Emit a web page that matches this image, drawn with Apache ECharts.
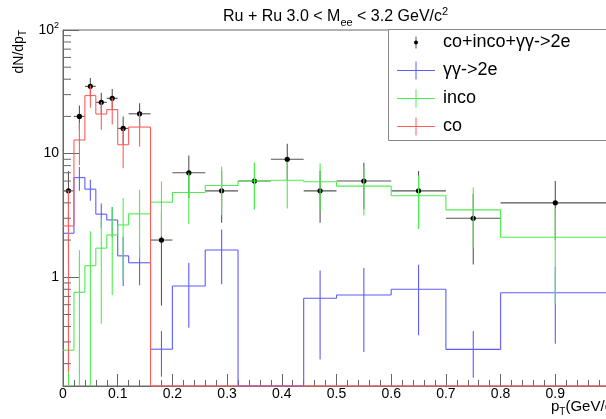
<!DOCTYPE html>
<html><head><meta charset="utf-8">
<script src="https://cdn.jsdelivr.net/npm/echarts@6/dist/echarts.min.js"></script>
<style>html,body{margin:0;padding:0;background:#fff}#c{width:606px;height:419px}</style>
</head><body><div id="c"></div>
<script>
// ---- data ----
const binLo = [0, 0.02, 0.04, 0.06, 0.08, 0.10, 0.12, 0.16, 0.20, 0.26, 0.32, 0.38, 0.44, 0.50, 0.60, 0.70, 0.80];
const binHi = [0.02, 0.04, 0.06, 0.08, 0.10, 0.12, 0.16, 0.20, 0.26, 0.32, 0.38, 0.44, 0.50, 0.60, 0.70, 0.80, 1.00];
const totVals = [5, 20, 35, 26, 28, 16, 21, 2, 7, 5, 6, 9, 5, 6, 5, 3, 4];
const totErr  = [2.24, 4.47, 5.92, 5.1, 5.29, 4.0, 4.58, 1.41, 2.65, 2.24, 2.45, 3.0, 2.24, 2.45, 2.24, 1.73, 2.0];
const ggVals  = [2.27, 6.4, 5.16, 3.24, 2.91, 1.49, 1.31, 0.262, 0.85, 1.66, 0, 0, 0.676, 0.719, 0.80, 0.261, 0.75];
const ggErr   = [1.0, 1.4, 1.0, 0.72, 0.8, 0.64, 0.45, 0.105, 0.46, 0.78, 0, 0, 0.46, 0.47, 0.46, 0.107, 0.46];
const incoVals = [0.257, 0.756, 1.24, 1.72, 2.2, 2.65, 3.26, 4.05, 4.85, 5.52, 6.0, 6.1, 5.92, 5.46, 4.56, 3.51, 2.11];
const incoErr  = [0.3, 0.9, 1.12, 1.3, 1.48, 1.7, 1.84, 1.9, 2.15, 2.35, 2.45, 2.5, 2.45, 2.3, 2.1, 1.8, 1.5];
const coVals = [2.6, 12.9, 29.5, 20.9, 22.7, 11.8, 16.4, 0, 0, 0, 0, 0, 0, 0, 0, 0, 0];
const coErr  = [2.43, 4.8, 6.0, 5.3, 5.5, 4.2, 5.0, 0, 0, 0, 0, 0, 0, 0, 0, 0, 0];
const seriesNames = ['co+inco+γγ->2e', 'γγ->2e', 'inco', 'co'];
const xTickLabels = ['0', '0.1', '0.2', '0.3', '0.4', '0.5', '0.6', '0.7', '0.8', '0.9'];
const yTickValues = [1, 10, 100];
const yTickLabels = ['1', '10', '{b|10}{s|2}'];
const yMinorTicks = [0.2,0.3,0.4,0.5,0.6,0.7,0.8,0.9, 2,3,4,5,6,7,8,9, 20,30,40,50,60,70,80,90];
const yMin = 0.132, yMax = 100;

// ---- styling ----
const FONT = 'Liberation Sans, Arial, Helvetica, sans-serif';
const AXC = '#666';
const COL = {tot: '#3a3a3a', gg: '#5c5cff', inco: '#4cee4c', co: '#ff5c5c'};

const clampY = v => Math.min(yMax, Math.max(yMin, v));
function rows(vals, errs) { return binLo.map((lo, i) => [lo, binHi[i], vals[i], errs[i]]); }

function histRender(vals, color) {
  return function (params, api) {
    const i = params.dataIndex;
    const lo = api.value(0), hi = api.value(1), v = api.value(2), e = api.value(3);
    const vc = clampY(v);
    const p1 = api.coord([lo, vc]), p2 = api.coord([hi, vc]);
    const st = {stroke: color, lineWidth: 1.1};
    const ch = [{type: 'line', shape: {x1: p1[0], y1: p1[1], x2: p2[0], y2: p2[1]}, style: st}];
    if (i > 0) {
      const q = api.coord([lo, clampY(vals[i - 1])]);
      ch.push({type: 'line', shape: {x1: q[0], y1: q[1], x2: p1[0], y2: p1[1]}, style: st});
    }
    if (v > 0 && e > 0) {
      const xc = (lo + hi) / 2;
      const a = api.coord([xc, clampY(v + e)]), b = api.coord([xc, clampY(v - e)]);
      ch.push({type: 'line', shape: {x1: a[0], y1: a[1], x2: b[0], y2: b[1]}, style: st});
    }
    return {type: 'group', children: ch};
  };
}
function pointRender(params, api) {
  const lo = api.value(0), hi = api.value(1), v = api.value(2), e = api.value(3);
  const xc = (lo + hi) / 2;
  const a = api.coord([lo, v]), b = api.coord([hi, v]);
  const t = api.coord([xc, clampY(v + e)]), d = api.coord([xc, clampY(v - e)]);
  const c = api.coord([xc, v]);
  const st = {stroke: '#555', lineWidth: 1.1};
  return {type: 'group', children: [
    {type: 'line', shape: {x1: a[0], y1: a[1], x2: b[0], y2: b[1]}, style: st},
    {type: 'line', shape: {x1: t[0], y1: t[1], x2: d[0], y2: d[1]}, style: st},
    {type: 'circle', shape: {cx: c[0], cy: c[1], r: 2.6}, style: {fill: '#000'}}
  ]};
}
function minorTickRender(params, api) {
  const p = api.coord([0, api.value(1)]);
  return {type: 'line', shape: {x1: p[0], y1: p[1], x2: p[0] + 8, y2: p[1]}, style: {stroke: AXC, lineWidth: 1}};
}

// legend drawn as graphic elements
const legendColors = ['#000', COL.gg, COL.inco, COL.co];
const legendGraphic = [{type: 'rect', shape: {x: 388.5, y: 29.5, width: 240, height: 111}, style: {fill: '#fff', stroke: '#888', lineWidth: 1}, z: 10}];
seriesNames.forEach((nm, i) => {
  const cy = 42.5 + 28 * i;
  if (i === 0) {
    legendGraphic.push({type: 'line', shape: {x1: 416, y1: cy - 6, x2: 416, y2: cy + 6}, style: {stroke: '#555', lineWidth: 1}, z: 11});
    legendGraphic.push({type: 'circle', shape: {cx: 416, cy: cy, r: 2}, style: {fill: '#000'}, z: 11});
  } else {
    legendGraphic.push({type: 'line', shape: {x1: 397, y1: cy, x2: 435, y2: cy}, style: {stroke: legendColors[i], lineWidth: 1}, z: 11});
    legendGraphic.push({type: 'line', shape: {x1: 416, y1: cy - 9, x2: 416, y2: cy + 9}, style: {stroke: legendColors[i], lineWidth: 1}, z: 11});
  }
  legendGraphic.push({type: 'text', x: 443, y: cy, style: {text: nm, font: '18px ' + FONT, fill: '#000', verticalAlign: 'middle', align: 'left'}, z: 11});
});

const chart = echarts.init(document.getElementById('c'), null, {renderer: 'canvas'});
chart.setOption({
  animation: false,
  backgroundColor: '#fff',
  title: {
    text: '{a|Ru + Ru 3.0 < M}{b|ee}{a| < 3.2 GeV/c}{c|2}',
    left: 218, top: 1,
    textStyle: {fontWeight: 'normal', rich: {
      a: {fontSize: 16, fontFamily: FONT, fontWeight: 'normal', color: '#000', lineHeight: 22},
      b: {fontSize: 11, fontFamily: FONT, fontWeight: 'normal', color: '#000', verticalAlign: 'bottom', lineHeight: 11},
      c: {fontSize: 11, fontFamily: FONT, fontWeight: 'normal', color: '#000', verticalAlign: 'top', lineHeight: 11}
    }}
  },
  grid: {left: 63, top: 30, width: 547, height: 356, show: true, borderColor: AXC, borderWidth: 1, containLabel: false, outerBoundsMode: 'none'},
  xAxis: {
    type: 'value', min: 0, max: 1, interval: 0.1,
    axisLine: {show: true, lineStyle: {color: AXC}},
    axisTick: {show: true, inside: true, length: 12, lineStyle: {color: AXC}},
    minorTick: {show: true, splitNumber: 5, length: 6, lineStyle: {color: AXC}},
    splitLine: {show: false}, minorSplitLine: {show: false},
    axisLabel: {margin: 1, color: '#000', fontSize: 14, fontFamily: FONT, showMaxLabel: true,
      formatter: v => { const k = Math.round(v * 10); return (Math.abs(v * 10 - k) < 1e-6 && k < xTickLabels.length) ? xTickLabels[k] : ''; }}
  },
  yAxis: {
    type: 'log', logBase: 10, min: yMin, max: yMax,
    axisLine: {show: true, lineStyle: {color: AXC}},
    axisTick: {show: true, inside: true, length: 16, lineStyle: {color: AXC}},
    minorTick: {show: false}, splitLine: {show: false},
    axisLabel: {margin: 4, color: '#000', fontSize: 14, fontFamily: FONT, showMinLabel: true, showMaxLabel: true,
      formatter: v => { for (let k = 0; k < yTickValues.length; k++) { if (Math.abs(v - yTickValues[k]) / yTickValues[k] < 1e-4) return yTickLabels[k]; } return ''; },
      rich: {b: {fontSize: 14, fontFamily: FONT, color: '#000', lineHeight: 18},
             s: {fontSize: 9, fontFamily: FONT, color: '#000', verticalAlign: 'top', lineHeight: 9}}}
  },
  graphic: [
    {type: 'text', x: 19, y: 30, rotation: Math.PI / 2,
     style: {text: '{a|dN/dp}{b|T}', align: 'right', verticalAlign: 'middle',
       rich: {a: {fontSize: 14, fontFamily: FONT, fill: '#000', lineHeight: 18}, b: {fontSize: 10, fontFamily: FONT, fill: '#000', verticalAlign: 'bottom', lineHeight: 10}}}},
    {type: 'text', x: 551, y: 407,
     style: {text: '{a|p}{b|T}{a|(GeV/c)}', align: 'left', verticalAlign: 'middle',
       rich: {a: {fontSize: 15, fontFamily: FONT, fill: '#000', lineHeight: 20}, b: {fontSize: 10, fontFamily: FONT, fill: '#000', verticalAlign: 'bottom', lineHeight: 10}}}}
  ].concat(legendGraphic),
  series: [
    {type: 'custom', name: 'yMinorTicks', silent: true, data: yMinorTicks.map(v => [0, v]), encode: {x: 0, y: 1}, renderItem: minorTickRender, z: 3},
    {type: 'custom', name: seriesNames[0], data: rows(totVals, totErr), encode: {x: [0, 1], y: 2}, renderItem: pointRender},
    {type: 'custom', name: seriesNames[1], data: rows(ggVals, ggErr), encode: {x: [0, 1], y: 2}, renderItem: histRender(ggVals, COL.gg)},
    {type: 'custom', name: seriesNames[2], data: rows(incoVals, incoErr), encode: {x: [0, 1], y: 2}, renderItem: histRender(incoVals, COL.inco)},
    {type: 'custom', name: seriesNames[3], data: rows(coVals, coErr), encode: {x: [0, 1], y: 2}, renderItem: histRender(coVals, COL.co)}
  ]
});
</script></body></html>
